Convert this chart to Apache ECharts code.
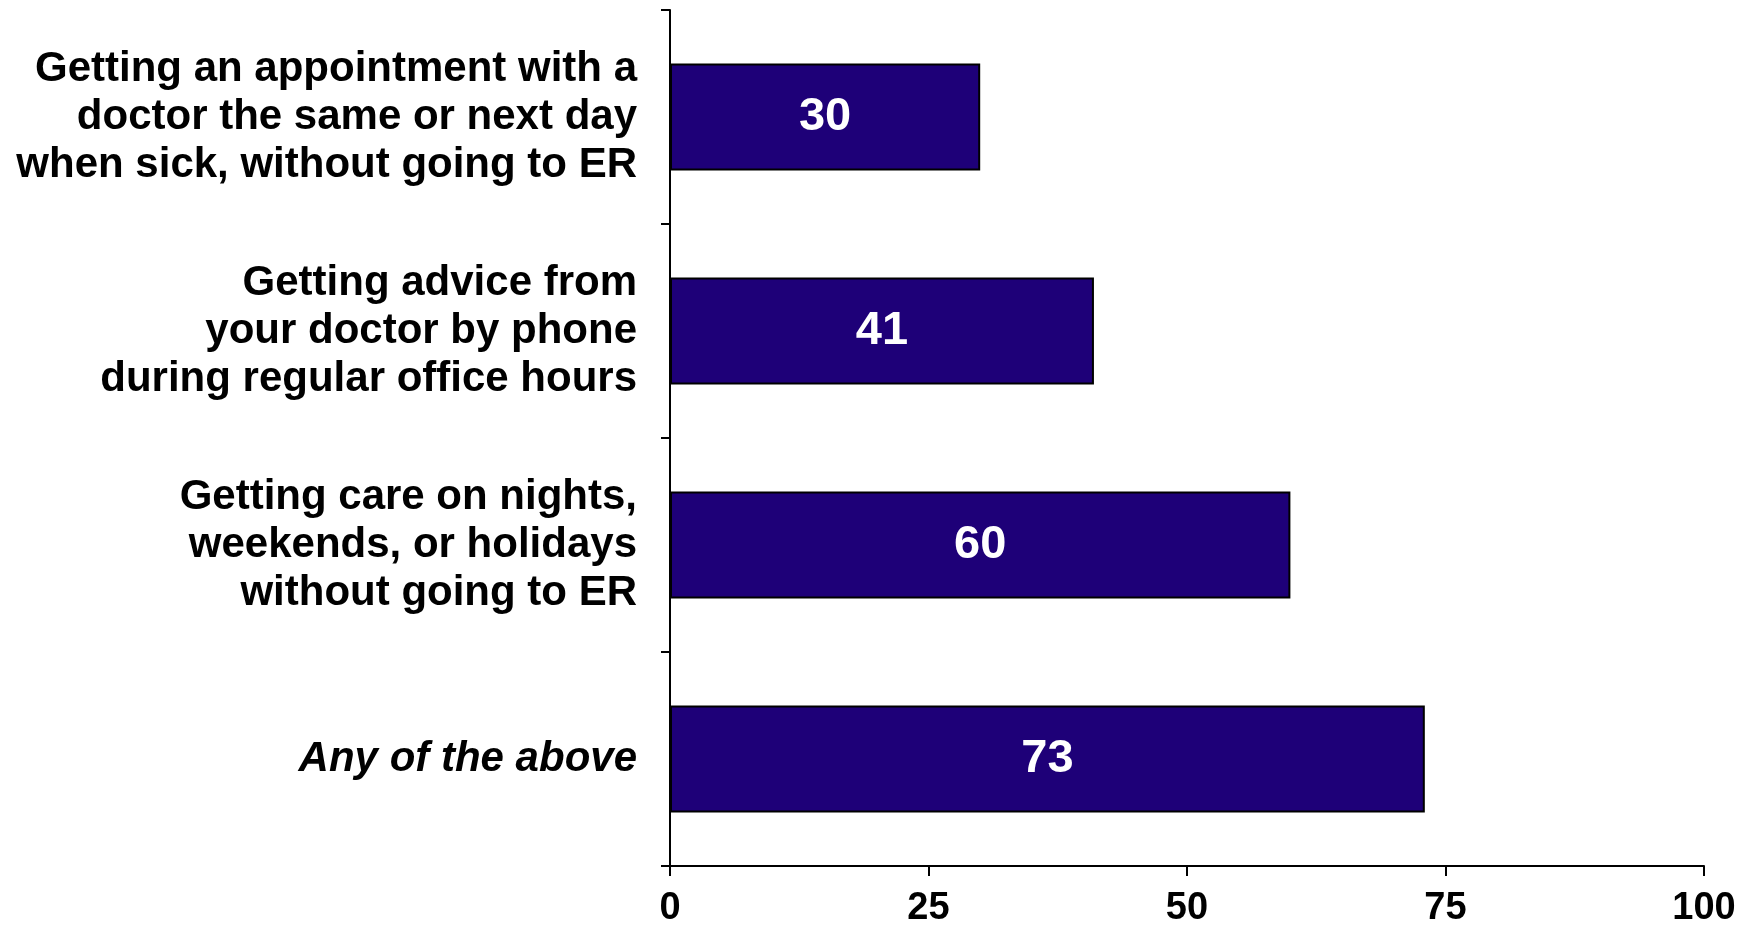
<!DOCTYPE html>
<html>
<head>
<meta charset="utf-8">
<script src="https://cdn.jsdelivr.net/npm/echarts@6/dist/echarts.min.js"></script>
<style>
  html, body { margin: 0; padding: 0; background: #ffffff; }
  #chart { width: 1749px; height: 930px; }
</style>
</head>
<body>
<div id="chart"></div>
<script>
// Access categories, listed top to bottom
const categories = [
  'Getting an appointment with a\ndoctor the same or next day\nwhen sick, without going to ER',
  'Getting advice from\nyour doctor by phone\nduring regular office hours',
  'Getting care on nights,\nweekends, or holidays\nwithout going to ER',
  'Any of the above'
];
// Percent reporting each
const values = [30, 41, 60, 73];
// Horizontal axis ticks
const xTicks = [0, 25, 50, 75, 100];
// Category shown in italics
const italicCategory = 'Any of the above';

const FONT = '"Liberation Sans", Arial, sans-serif';

const chart = echarts.init(document.getElementById('chart'), null, { renderer: 'canvas' });

chart.setOption({
  backgroundColor: '#ffffff',
  animation: false,
  grid: { left: 670, right: 45, top: 10, bottom: 64 },
  xAxis: {
    type: 'value',
    min: xTicks[0],
    max: xTicks[xTicks.length - 1],
    interval: xTicks[1] - xTicks[0],
    axisLine: { show: true, lineStyle: { color: '#000', width: 2 } },
    axisTick: { show: true, length: 10, lineStyle: { color: '#000', width: 2 } },
    splitLine: { show: false },
    axisLabel: {
      margin: 24,
      color: '#000',
      fontFamily: FONT,
      fontWeight: 'bold',
      fontSize: 38
    }
  },
  yAxis: {
    type: 'category',
    inverse: true,
    data: categories,
    axisLine: { show: true, lineStyle: { color: '#000', width: 2 } },
    axisTick: { show: true, length: 9, lineStyle: { color: '#000', width: 2 } },
    axisLabel: {
      margin: 33,
      color: '#000',
      fontFamily: FONT,
      fontWeight: 'bold',
      fontSize: 42,
      lineHeight: 48,
      align: 'right',
      formatter: (v) => v === italicCategory ? '{it|' + v + '}' : v,
      rich: {
        it: {
          color: '#000',
          fontFamily: FONT,
          fontWeight: 'bold',
          fontStyle: 'italic',
          fontSize: 42,
          lineHeight: 48
        }
      }
    }
  },
  series: [{
    type: 'bar',
    data: values,
    barWidth: '50%',
    itemStyle: {
      color: '#1E0078',
      borderColor: '#000',
      borderWidth: 2
    },
    label: {
      show: true,
      position: 'inside',
      color: '#fff',
      fontFamily: FONT,
      fontWeight: 'bold',
      fontSize: 47
    }
  }]
});
</script>
</body>
</html>
